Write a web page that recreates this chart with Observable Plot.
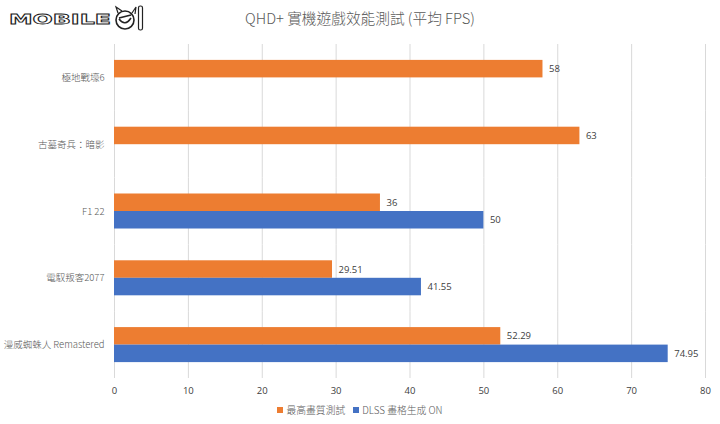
<!DOCTYPE html>
<html><head><meta charset="utf-8">
<script src="https://cdn.jsdelivr.net/npm/d3@7"></script>
<script src="https://cdn.jsdelivr.net/npm/@observablehq/plot@0.6"></script>
<style>
html,body{margin:0;padding:0;background:#fff;width:720px;height:424px;overflow:hidden}
body{position:relative;font-family:"Noto Sans CJK TC","Open Sans",sans-serif;color:#595959}
#logo{position:absolute;left:8px;top:3px}
#title{height:40px;line-height:36px;text-align:center;font-size:14.7px;font-weight:300;color:#595959}
#legend{height:26px;display:flex;justify-content:center;align-items:center;gap:8px;font-size:9.8px;font-weight:300;padding-bottom:2px;box-sizing:border-box}
#legend span.k{display:inline-flex;align-items:center;gap:3px}
#legend i{display:inline-block;width:6px;height:6px}
svg{display:block}
</style></head><body>
<svg id="logo" width="140" height="30" viewBox="0 0 140 30">
  <text x="1" y="21" font-family="DejaVu Sans" font-weight="bold" font-size="14" textLength="102" lengthAdjust="spacingAndGlyphs" fill="#fff" stroke="#222" stroke-width="0.8">MOBILE</text>
  <circle cx="117" cy="17" r="9" fill="#fff" stroke="#222" stroke-width="1.6"/>
  <path d="M111 15l12-3M111 16q6 8 12-1" fill="none" stroke="#222" stroke-width="1.6"/>
  <path d="M110 10l-2-6 6 4M124 10l4-6-1 7" fill="none" stroke="#222" stroke-width="1.2"/>
  <rect x="130.5" y="3" width="4" height="24" rx="1.8" fill="#fff" stroke="#222" stroke-width="1.2"/>
</svg>
<div id="title">QHD+ 實機遊戲效能測試 (平均 FPS)</div>
<div id="chart"></div>
<div id="legend"></div>
<script>
const games = ["極地戰壕6", "古墓奇兵：暗影", "F1 22", "電馭叛客2077", "漫威蜘蛛人 Remastered"];
const seriesNames = ["最高畫質測試", "DLSS 畫格生成 ON"];
const colors = ["#ED7D31", "#4472C4"];
const maxQuality = [58, 63, 36, 29.51, 52.29];
const dlssOn = [null, null, 50, 41.55, 74.95];
const labelsMax = ["58", "63", "36", "29.51", "52.29"];
const labelsDlss = [null, null, "50", "41.55", "74.95"];
const xTicks = [0, 10, 20, 30, 40, 50, 60, 70, 80];

const rows = [];
games.forEach((g, i) => {
  rows.push({game: g, series: seriesNames[0], value: maxQuality[i], label: labelsMax[i]});
  if (dlssOn[i] != null) rows.push({game: g, series: seriesNames[1], value: dlssOn[i], label: labelsDlss[i]});
});

const font = '"Open Sans","Noto Sans CJK TC",sans-serif';
const plot = Plot.plot({
  width: 720, height: 358,
  marginTop: 4, marginBottom: 20, marginLeft: 114, marginRight: 15,
  style: {fontFamily: font, fontSize: "9.5px", color: "#595959", background: "transparent"},
  x: {domain: [0, 80], ticks: xTicks, label: null},
  y: {domain: seriesNames, round: false, paddingInner: 0, paddingOuter: 0.908, axis: null, label: null},
  fy: {domain: games, round: false, padding: 0, label: null},
  color: {domain: seriesNames, range: colors},
  marks: [
    Plot.gridX(xTicks, {stroke: "#d9d9d9", strokeOpacity: 1}),
    Plot.barX(rows, {x: "value", y: "series", fy: "game", fill: "series"}),
    Plot.text(rows, {x: "value", y: "series", fy: "game", text: "label", textAnchor: "start", dx: 6, fill: "#404040", fontSize: 9.5}),
    Plot.axisX(xTicks, {anchor: "bottom", tickSize: 0, tickPadding: 9, label: null, fill: "#404040", fontSize: 9.5}),
    Plot.axisFy({anchor: "left", tickSize: 0, tickPadding: 10, label: null, fill: "#595959", fontSize: 9.5, fontFamily: '"Noto Sans CJK TC",sans-serif', fontWeight: 300, lineWidth: 30})
  ]
});
document.getElementById("chart").appendChild(plot);

const legend = document.getElementById("legend");
seriesNames.forEach((s, i) => {
  const k = document.createElement("span"); k.className = "k";
  const sw = document.createElement("i"); sw.style.background = colors[i];
  k.appendChild(sw); k.appendChild(document.createTextNode(s));
  legend.appendChild(k);
});
</script>
</body></html>
